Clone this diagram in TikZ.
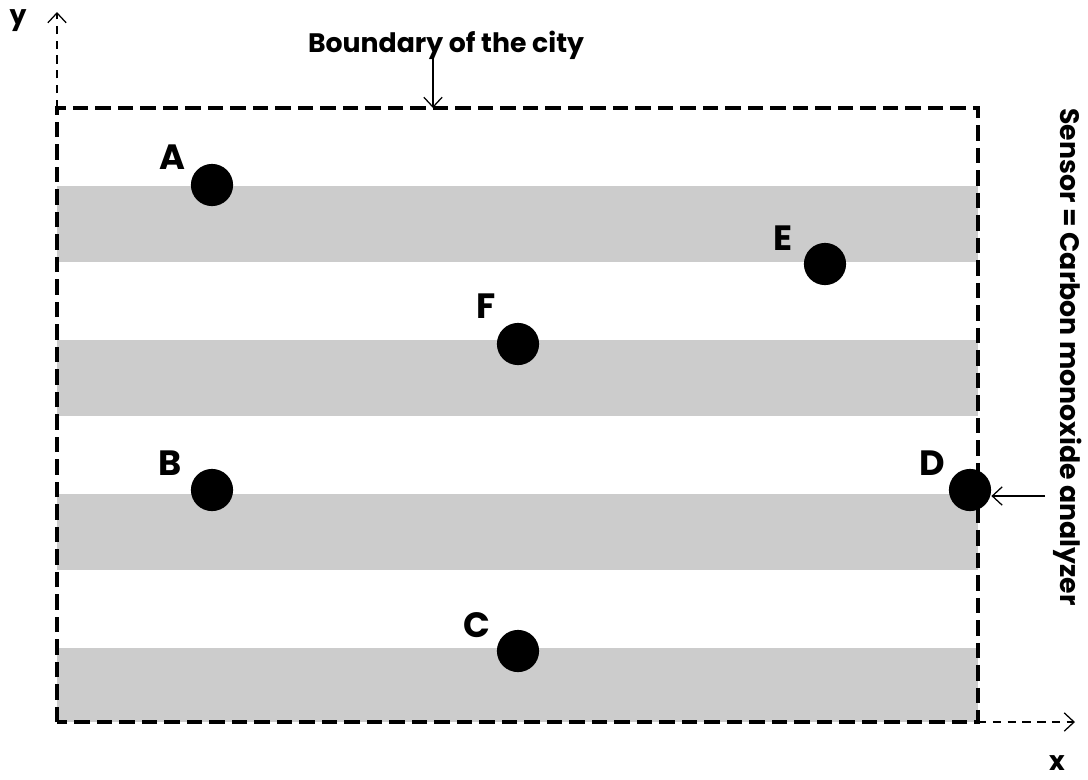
\documentclass[tikz,border=0pt]{standalone}
\usepackage{fontspec}
\setmainfont{Poppins}
\usepackage{tikz}
\usetikzlibrary{positioning,arrows.meta}
\definecolor{stripe}{RGB}{204,204,204}

\tikzset{
  sensor/.style={circle,fill=black,minimum size=30pt,inner sep=0pt},
  tag/.style={font=\fontsize{25}{25}\selectfont\bfseries},
  txt/.style={font=\fontsize{19}{19}\selectfont\bfseries},
  pointer/.style={-{Straight Barb[length=7pt,width=13pt]},line width=0.9pt},
  axis/.style={pointer,dash pattern=on 6pt off 4.5pt},
  border/.style={line width=3.4pt,dash pattern=on 11pt off 5pt}
}

\begin{document}
\begin{tikzpicture}[x=0.025cm,y=-0.025cm]
        \useasboundingbox (0,0) rectangle (1088,779);

        % Roads
        \foreach \top in {186,340,494,648} {
          \fill[stripe] (57,\top) rectangle (978,{min(\top+76,722)});
        }

        % Axes
        \coordinate (o) at (57,722);
        \coordinate (tl) at (57,108);
        \coordinate (br) at (978,722);
        \coordinate (ytip) at (57,12);
        \coordinate (xtip) at (1075,722);
        \draw[axis] (tl) -- (ytip);
        \draw[axis] (br) -- (xtip);
        \node[txt] (ylab) at (18,21) {y};
        \node[txt] (xlab) at (1057,763) {x};

        % City boundary
        \draw[border] (o) rectangle (978,108);
        \node[txt] (city) at (446,45) {Boundary of the city};
        \coordinate (cityedge) at (433,108);
        \draw[pointer] (433,58) -- (cityedge);

        % Sensors
        \node[sensor] (A) at (212,185) {};
        \node[sensor] (E) at (825,264) {};
        \node[sensor] (F) at (518,344) {};
        \node[sensor] (B) at (212,490) {};
        \node[sensor] (D) at (970,490) {};
        \node[sensor] (C) at (518,651) {};
        \foreach \s/\dx/\dy in {A/-40/-28,E/-42/-26,F/-32/-38,B/-42/-27,D/-38/-27,C/-41/-26} {
          \node[tag] (lab\s) at ([shift={(\dx,\dy)}]\s) {\s};
        }

        % Legend
        \node[rotate=-90,txt] (legend) at (1068,357) {Sensor = Carbon monoxide analyzer};
        \coordinate (legarrow) at (1045,496);
        \draw[pointer] (legarrow) -- (D.east |- legarrow);
    \end{tikzpicture}
\end{document}
